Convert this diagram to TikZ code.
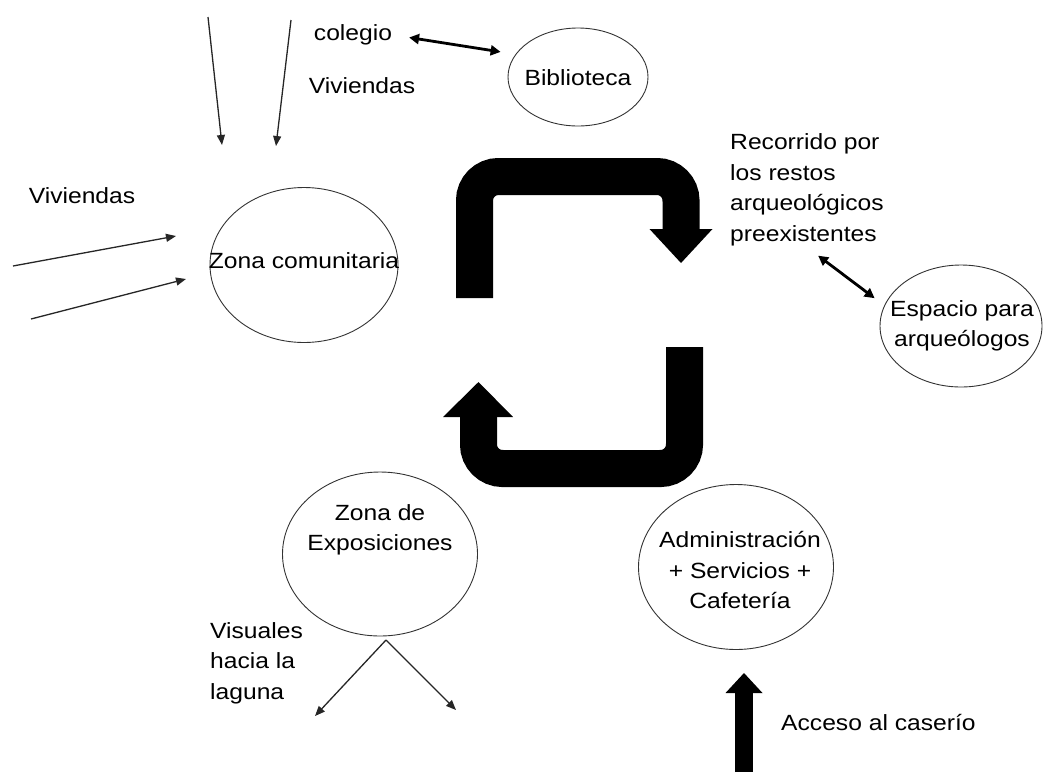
\documentclass[tikz,border=0pt]{standalone}
\usepackage{fontspec}
\setmainfont{Liberation Sans}[FakeStretch=1.12]
\usepackage{tikz}
\usetikzlibrary{arrows.meta,shapes.geometric}
\definecolor{EdgeGray}{HTML}{333333}

\begin{document}
\begin{tikzpicture}[x=1pt,y=-1pt,
  txt/.style={font=\fontsize{22}{30.5}\selectfont,inner sep=1pt},
  zone/.style={draw=EdgeGray,line width=0.9pt,ellipse,inner sep=0pt},
  flow/.style={draw=black!85,line width=1.3pt,-{Triangle[length=10pt,width=8pt]}},
  link/.style={draw=black,line width=2.8pt,{Triangle[length=10pt,width=10pt]}-{Triangle[length=10pt,width=10pt]}},
  band/.style={draw=black,line width=37pt,rounded corners=24pt}]
  \useasboundingbox (0,0) rectangle (1043,772);
  % zones
  \node[zone,minimum width=140pt,minimum height=98pt] (biblio) at (578,77) {};
  \node[txt] (bibliotxt) at (578,78) {Biblioteca};
  \node[zone,minimum width=188pt,minimum height=155pt] (comunal) at (304,265) {};
  \node[txt] (comunaltxt) at (304,261) {Zona comunitaria};
  \node[zone,minimum width=162pt,minimum height=122pt] (espacio) at (961,326) {};
  \node[txt,align=center] (espaciotxt) at (962,326) {Espacio para\\arqueólogos};
  \node[zone,minimum width=195pt,minimum height=164pt] (expo) at (380,554) {};
  \node[txt,align=center] (expotxt) at (380,530) {Zona de\\Exposiciones};
  \node[zone,minimum width=195pt,minimum height=165pt] (admin) at (736,567) {};
  \node[txt,align=center] (admintxt) at (740,570) {Administración\\+ Servicios +\\Cafetería};
  % free labels
  \node[txt] (colegio) at (353,35) {colegio};
  \node[txt] (vivtop) at (362,86) {Viviendas};
  \node[txt] (vivleft) at (82,196) {Viviendas};
  \node[txt,align=left,anchor=west] (recorrido) at (729,190) {Recorrido por\\los restos\\arqueológicos\\preexistentes};
  \node[txt,align=left,anchor=west] (visuales) at (209,663) {Visuales\\hacia la\\laguna};
  \node[txt,anchor=west] (acceso) at (780,722) {Acceso al caserío};
  % links
  \draw[link,shorten <=16pt,shorten >=15pt] (colegio.east) -- (biblio.160);
  \draw[link,shorten <=14pt,shorten >=12pt] (recorrido.south) -- (espacio.165);
  % incoming flows
  \coordinate (in1) at (208,17);  \coordinate (in1end) at (222,145);
  \coordinate (in2) at (291,20);  \coordinate (in2end) at (276,146);
  \coordinate (in3) at (13,266);  \coordinate (in3end) at (176,236);
  \coordinate (in4) at (31,319);  \coordinate (in4end) at (186,279);
  \draw[flow] (in1) -- (in1end);
  \draw[flow] (in2) -- (in2end);
  \draw[flow] (in3) -- (in3end);
  \draw[flow] (in4) -- (in4end);
  % views to the lagoon
  \coordinate (view) at (386,640);
  \coordinate (viewl) at (315,716);
  \coordinate (viewr) at (456,710);
  \draw[flow] (view) -- (viewl);
  \draw[flow] (view) -- (viewr);
  % tour loop
  \draw[band] (474.5,298) -- (474.5,176.5) -- (681,176.5) -- (681,230);
  \fill (649.5,229) -- (712.5,229) -- (681,263) -- cycle;
  \draw[band] (684.5,347) -- (684.5,468.5) -- (478.5,468.5) -- (478.5,416);
  \fill (443,417) -- (513,417) -- (478.5,382) -- cycle;
  % access
  \coordinate (accbase) at (744,772);
  \coordinate (acctip) at (744,673);
  \draw[line width=18pt] (accbase) -- (744,692);
  \fill (725.5,693) -- (762.5,693) -- (acctip) -- cycle;
\end{tikzpicture}
\end{document}
